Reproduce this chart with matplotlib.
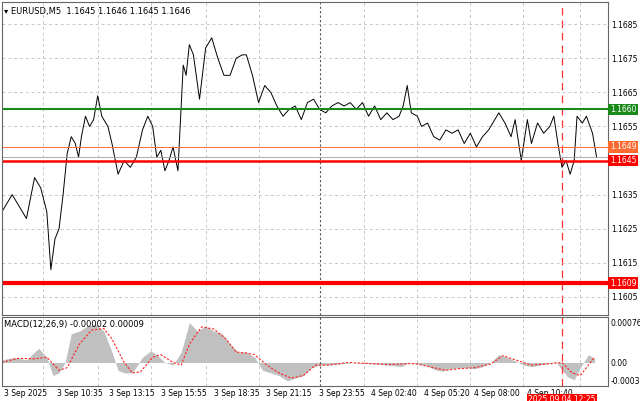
import matplotlib.pyplot as plt
from matplotlib.ticker import FixedLocator

# price trace (x in chart units 0..1488, price)
px = [0, 25, 45, 60, 80, 95, 110, 120, 130, 140, 150, 160, 170, 180, 188, 195, 205, 215, 225, 235,
      245, 260, 270, 285, 300, 315, 330, 345, 358, 370, 380, 390, 400, 410, 420, 432, 445, 452, 460, 470,
      485, 500, 515, 530, 545, 560, 575, 590, 600, 615, 630, 645, 660, 675, 690, 705, 720, 735, 750, 765,
      780, 795, 810, 825, 840, 855, 870, 885, 900, 915, 930, 945, 960, 975, 985, 995, 1005, 1020, 1030, 1045,
      1060, 1075, 1090, 1105, 1120, 1135, 1150, 1165, 1180, 1195, 1210, 1220, 1235, 1250, 1260, 1275, 1290, 1300, 1315, 1330,
      1345, 1355, 1365, 1375, 1385, 1395, 1405, 1412, 1425, 1435, 1450, 1460]
price = [1.1630, 1.1635, 1.1631, 1.1628, 1.1640, 1.1637, 1.1630, 1.1613, 1.1622, 1.1625,
         1.1635, 1.1647, 1.1652, 1.1650, 1.1646, 1.1652, 1.1658, 1.1655, 1.1657, 1.1664,
         1.1658, 1.1655, 1.1650, 1.1641, 1.1645, 1.1643, 1.1646, 1.1654, 1.1658, 1.1655,
         1.1646, 1.1648, 1.1642, 1.1645, 1.1649, 1.1642, 1.1673, 1.1670, 1.1679, 1.1676,
         1.1663, 1.1678, 1.1681, 1.1675, 1.1670, 1.1670, 1.1675, 1.1676, 1.1676, 1.1670,
         1.1662, 1.1667, 1.1665, 1.1661, 1.1658, 1.1660, 1.1661, 1.1657, 1.1662, 1.1663,
         1.1660, 1.1659, 1.1661, 1.1662, 1.1661, 1.1662, 1.1660, 1.1662, 1.1658, 1.1661,
         1.1657, 1.1659, 1.1657, 1.1658, 1.1661, 1.1667, 1.1659, 1.1658, 1.1655, 1.1656,
         1.1652, 1.1651, 1.1654, 1.1653, 1.1654, 1.1650, 1.1653, 1.1649, 1.1652, 1.1654,
         1.1657, 1.1659, 1.1656, 1.1652, 1.1657, 1.1645, 1.1657, 1.1650, 1.1656, 1.1653,
         1.1655, 1.1658, 1.1650, 1.1643, 1.1645, 1.1641, 1.1645, 1.1658, 1.1656, 1.1658,
         1.1653, 1.1646]

hx = [0, 30, 60, 90, 110, 125, 140, 155, 170, 190, 210, 230, 250, 270, 285, 300, 320, 345, 365, 380,
      400, 420, 440, 460, 480, 500, 520, 540, 560, 580, 600, 620, 640, 660, 680, 700, 720, 740, 760, 780,
      800, 830, 860, 890, 920, 950, 980, 1000, 1020, 1040, 1060, 1080, 1100, 1120, 1140, 1160, 1180, 1200, 1220, 1240,
      1260, 1280, 1300, 1320, 1340, 1360, 1375, 1390, 1405, 1420, 1440, 1455]
hist = [0.05, 0.1, 0.05, 0.27, 0.1, -0.25, -0.2, 0.0, 0.55, 0.6, 0.7, 0.73, 0.6, 0.2, -0.15, -0.2, -0.2, 0.1, 0.22, 0.15,
        0.0, -0.05, 0.2, 0.76, 0.6, 0.7, 0.6, 0.55, 0.35, 0.2, 0.2, 0.1, -0.15, -0.2, -0.25, -0.35, -0.3, -0.25, -0.1, -0.05,
        -0.05, -0.03, 0.0, -0.02, -0.03, -0.05, -0.08, 0.0, -0.03, -0.05, -0.13, -0.17, -0.12, -0.1, -0.1, -0.12, -0.08, 0.0, 0.15, 0.1,
        0.03, -0.05, -0.08, -0.05, -0.02, 0.02, -0.15, -0.28, -0.33, -0.1, 0.15, 0.08]
sx = [0, 40, 80, 110, 140, 160, 190, 220, 250, 270, 300, 320, 340, 370, 390, 420, 440, 460, 490, 520,
      550, 575, 600, 620, 650, 680, 710, 740, 770, 800, 850, 900, 950, 1000, 1020, 1060, 1090, 1120, 1160, 1200,
      1230, 1260, 1300, 1350, 1375, 1400, 1420, 1440, 1455]
signal = [0.0, 0.08, 0.07, 0.1, -0.15, -0.1, 0.35, 0.62, 0.65, 0.45, 0.0, -0.2, -0.18, 0.1, 0.15, 0.0, -0.05, 0.35, 0.68, 0.64,
          0.45, 0.2, 0.18, 0.15, -0.05, -0.2, -0.3, -0.25, -0.05, -0.05, 0.0, -0.02, -0.04, -0.02, -0.03, -0.1, -0.15, -0.12, -0.1, -0.03,
          0.13, 0.05, -0.05, -0.02, 0.0, -0.2, -0.25, -0.05, 0.1]

time_ticks = [5, 135, 262, 390, 520, 648, 778, 905, 1035, 1160, 1290]
time_labels = ['3 Sep 2025', '3 Sep 10:35', '3 Sep 13:15', '3 Sep 15:55', '3 Sep 18:35', '3 Sep 21:15',
               '3 Sep 23:55', '4 Sep 02:40', '4 Sep 05:20', '4 Sep 08:00', '4 Sep 10:40']
price_ticks = [1.1605, 1.1615, 1.1625, 1.1635, 1.1645, 1.1655, 1.1665, 1.1675, 1.1685]
levels = [(1.1660, '#1a8a1a', 1.5), (1.1645, '#ff0000', 1.8), (1.1609, '#ff0000', 3.0)]

plt.rcParams['font.family'] = 'DejaVu Sans'
fig = plt.figure(figsize=(6.4, 4.01), dpi=100)
W, H = 640, 401
ax = fig.add_axes([2 / W, 1 - 315 / H, 606 / W, 313 / H])
am = fig.add_axes([2 / W, 1 - 386 / H, 606 / W, 69 / H], sharex=ax)

grid_x = [100, 235, 365, 500, 630, 890, 1020, 1150, 1280, 1420]
for a in (ax, am):
    for g in grid_x:
        a.axvline(g, color='#c8c8c8', lw=0.7, ls=(0, (3, 3)))
    a.axvline(780, color='#555555', lw=0.8, ls=(0, (2, 2)))
    a.axvline(1375, color='#ff3030', lw=0.9, ls=(0, (6, 4)))
    a.tick_params(length=0, labelsize=5.5, pad=2)
    for s in a.spines.values():
        s.set_color('#666666')
        s.set_linewidth(0.8)

for p in price_ticks:
    ax.axhline(p, color='#c8c8c8', lw=0.7, ls=(0, (3, 3)))
ax.plot(px, price, color='black', lw=0.7)
ax.axhline(1.1649, color='#ff6a30', lw=0.7)
ax.axhline(1.1646, color='#a0a0a0', lw=0.6)
for lv, c, lw in levels:
    ax.axhline(lv, color=c, lw=lw)
ax.set_xlim(0, 1488)
ax.set_ylim(1.15997, 1.16915)
ax.yaxis.tick_right()
ax.set_yticks(price_ticks)
ax.set_yticklabels([f'{p:.4f}' for p in price_ticks])
ax.tick_params(axis='x', labelbottom=False)
for lv, txt, fc in [(1.1660, '1.1660', '#1a8a1a'), (1.1649, '1.1649', '#ff6a30'),
                    (1.1645, '1.1645', '#ff0000'), (1.1609, '1.1609', '#ff0000')]:
    ax.text(1.003, lv, txt, transform=ax.get_yaxis_transform(), fontsize=5.5, color='white',
            va='center', ha='left', bbox=dict(fc=fc, ec='none', pad=1.0), zorder=5)
ax.text(0.004, 0.985, '\u25be EURUSD,M5  1.1645 1.1646 1.1645 1.1646', transform=ax.transAxes,
        fontsize=6, va='top', ha='left')

am.fill_between(hx, hist, 0, color='#c0c0c0', linewidth=0)
am.plot(sx, signal, color='#ff2020', lw=0.8, ls=(0, (2, 1.5)))
am.set_ylim(-0.45, 0.87)
am.yaxis.tick_right()
am.set_yticks([0.76, 0.0, -0.35])
am.set_yticklabels(['0.00076', '0.00', '-0.00035'])
am.xaxis.set_major_locator(FixedLocator(time_ticks))
am.set_xticklabels(time_labels, ha='left')
am.text(0.004, 0.95, 'MACD(12,26,9) -0.00002 0.00009', transform=am.transAxes, fontsize=6, va='top')
am.text(1375, -0.62, '2025.09.04 12:25', fontsize=5.5, color='white', ha='center', va='top',
        bbox=dict(fc='#ff0000', ec='none', pad=1.0), clip_on=False, zorder=10)

fig.savefig('out.png', dpi=100)
